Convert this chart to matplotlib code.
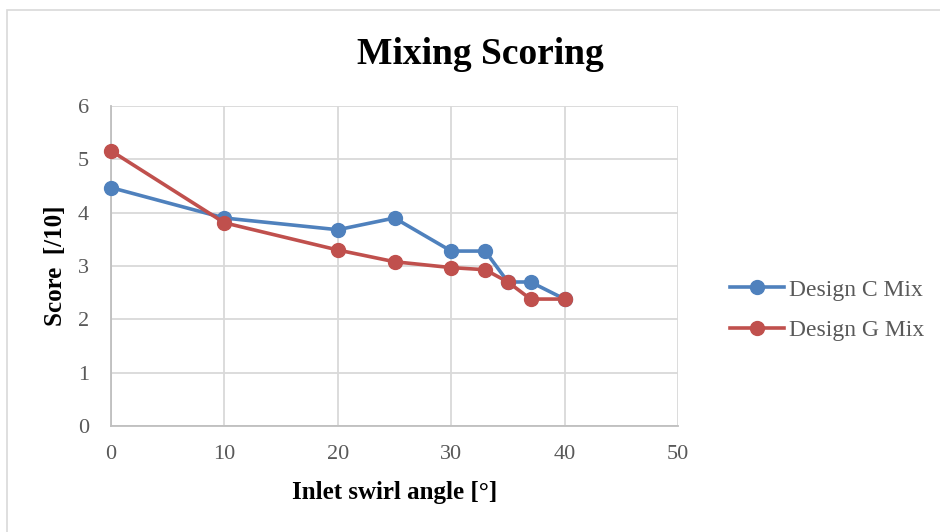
import matplotlib.pyplot as plt
from matplotlib.patches import Rectangle

# Data
angles = [0, 10, 20, 25, 30, 33, 35, 37, 40]
design_c = [4.47, 3.90, 3.68, 3.90, 3.28, 3.28, 2.70, 2.70, 2.38]
design_g = [5.16, 3.81, 3.30, 3.08, 2.97, 2.93, 2.70, 2.38, 2.38]

BLUE = "#4F81BD"
RED = "#C0504D"
GRID = "#D9D9D9"
TEXT = "#595959"

plt.rcParams["font.family"] = ["Liberation Serif", "DejaVu Serif"]

fig = plt.figure(figsize=(9.4, 5.32), dpi=100)
ax = fig.add_axes([111 / 940, 1 - 426 / 532, (678 - 111) / 940, (426 - 106) / 532])

# chart border
fig.patches.append(Rectangle((7 / 940, -0.1), 1.1, 1 - 10 / 532 + 0.1,
                             transform=fig.transFigure, fill=False,
                             edgecolor="#D9D9D9", linewidth=1.2))

ax.plot(angles, design_c, color=BLUE, linewidth=2.6, marker="o",
        markersize=10, label="Design C Mix", zorder=3, clip_on=False)
ax.plot(angles, design_g, color=RED, linewidth=2.6, marker="o",
        markersize=10, label="Design G Mix", zorder=4, clip_on=False)

ax.set_xlim(0, 50)
ax.set_ylim(0, 6)
ax.set_xticks(range(0, 51, 10))
ax.set_yticks(range(0, 7))
ax.grid(True, color=GRID, linewidth=1.3)
ax.set_axisbelow(True)

for side in ["top", "right"]:
    ax.spines[side].set_visible(False)
ax.spines["left"].set_color("#BFBFBF")
ax.spines["bottom"].set_color("#BFBFBF")
ax.spines["left"].set_linewidth(1.3)
ax.spines["bottom"].set_linewidth(1.3)
ax.tick_params(length=0, labelsize=16, colors=TEXT)
ax.tick_params(axis="y", pad=16)
ax.tick_params(axis="x", pad=14)

ax.set_xlabel("Inlet swirl angle [°]", fontsize=18, fontweight="bold", labelpad=12)
ax.set_ylabel("Score  [/10]", fontsize=18, fontweight="bold", labelpad=8)
fig.text(480 / 940, 1 - 54 / 532, "Mixing Scoring", fontsize=27,
         fontweight="bold", ha="center", va="center")

fig.legend(handles=ax.get_lines(), loc="center left",
           bbox_to_anchor=(730 / 940, 1 - 310 / 532), frameon=False,
           fontsize=17, labelcolor=TEXT, handlelength=2.3, handletextpad=0.2,
           labelspacing=0.8, borderaxespad=0, borderpad=0)

fig.savefig("out.png", dpi=100)
